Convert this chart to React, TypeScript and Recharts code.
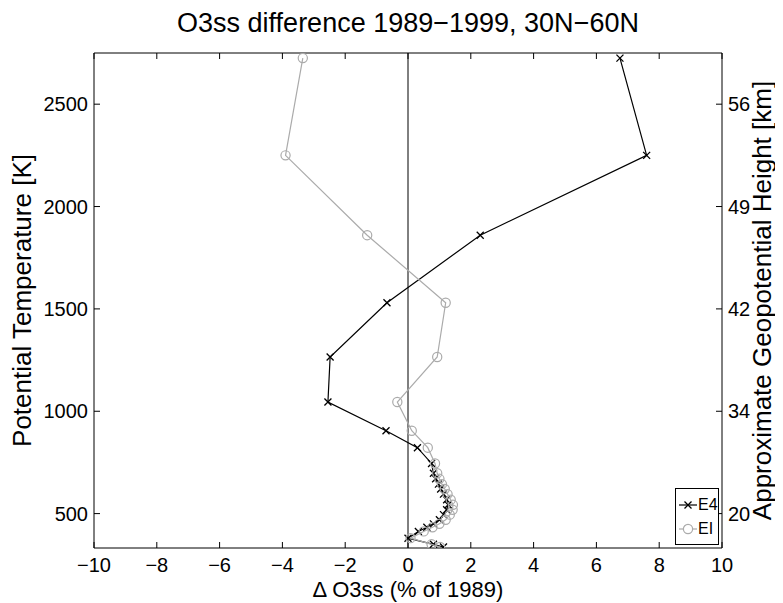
import {
  ScatterChart,
  Scatter,
  XAxis,
  YAxis,
  ReferenceLine,
} from "recharts";

const FONT = '"Liberation Sans", Arial, Helvetica, sans-serif';
const INK = "#000000";
const GREY = "#ababab";

// potential temperature levels [K], top to bottom
const theta = [2725, 2250, 1860, 1530, 1265, 1045, 905, 822, 745, 697, 670, 644, 620, 595, 568, 543, 519, 495, 470, 450, 433, 413, 380, 350, 337];
// O3ss change, % of 1989
const e4 = [6.75, 7.6, 2.3, -0.67, -2.48, -2.55, -0.7, 0.3, 0.75, 0.81, 0.88, 0.97, 1.04, 1.13, 1.23, 1.28, 1.23, 1.13, 1.0, 0.81, 0.6, 0.33, 0.0, 0.81, 1.13];
const ei = [-3.35, -3.9, -1.3, 1.2, 0.93, -0.34, 0.12, 0.63, 0.86, 0.93, 1.0, 1.08, 1.17, 1.26, 1.36, 1.43, 1.42, 1.33, 1.2, 1.0, 0.78, 0.5, 0.08, 0.75, 1.02];

const xTicks = [-10, -8, -6, -4, -2, 0, 2, 4, 6, 8, 10];
const thetaTicks = [500, 1000, 1500, 2000, 2500];
const kmLabels = ["20", "34", "42", "49", "56"];

const e4Data = theta.map((t, i) => ({ d: e4[i], t }));
const eiData = theta.map((t, i) => ({ d: ei[i], t }));

const minus = (v: number) => String(v).replace("-", "\u2212");
const kmFmt = (v: number) => kmLabels[thetaTicks.indexOf(v)] ?? "";

const tickStyle = { fontSize: 20, fill: INK, fontFamily: FONT };
const labelStyle = { fontSize: 26, fill: INK, fontFamily: FONT, textAnchor: "middle" as const };

function Cross(props: any) {
  const { cx, cy } = props;
  const s = 3.5;
  return (
    <path
      d={`M${cx - s},${cy - s}L${cx + s},${cy + s}M${cx - s},${cy + s}L${cx + s},${cy - s}`}
      stroke={INK}
      strokeWidth={1.3}
      fill="none"
    />
  );
}

function Ring(props: any) {
  return <circle cx={props.cx} cy={props.cy} r={4.6} fill="none" stroke={GREY} strokeWidth={1.2} />;
}

// matlab-ish boxed legend, sits in the lower right corner of the axes
function LegendBox() {
  const row = (name: string, color: string, marker: "x" | "o") => (
    <div style={{ display: "flex", alignItems: "center", height: 24 }}>
      <svg width={18} height={12} style={{ flex: "none" }}>
        <line x1={0} y1={6} x2={18} y2={6} stroke={color} strokeWidth={1.2} />
        {marker === "x" ? (
          <path d="M5.5,2.5L12.5,9.5M5.5,9.5L12.5,2.5" stroke={color} strokeWidth={1.3} />
        ) : (
          <circle cx={9} cy={6} r={4.6} fill="#fff" stroke={color} strokeWidth={1.2} />
        )}
      </svg>
      <span style={{ marginLeft: 1, whiteSpace: "nowrap" }}>{name}</span>
    </div>
  );
  return (
    <div
      style={{
        position: "absolute",
        left: 667,
        top: 480,
        width: 44,
        height: 57,
        border: "1px solid #000",
        background: "#fff",
        padding: "4px 0 0 3px",
        fontFamily: FONT,
        fontSize: 16,
        color: INK,
        boxSizing: "border-box",
      }}
    >
      {row("E4", INK, "x")}
      {row("EI", GREY, "o")}
    </div>
  );
}

export default function App() {
  return (
    <div style={{ position: "relative", width: 775, height: 595, fontFamily: FONT }}>
      <div
        style={{
          position: "absolute",
          top: 0,
          left: 86,
          width: 628,
          textAlign: "center",
          fontSize: 27,
          lineHeight: "31px",
          color: INK,
          whiteSpace: "nowrap",
        }}
      >
        O3ss difference 1989{"\u2212"}1999, 30N{"\u2212"}60N
      </div>
      <ScatterChart width={775} height={595} margin={{ top: 40, right: 0, bottom: 5, left: 0 }}>
        <XAxis
          xAxisId="b"
          type="number"
          dataKey="d"
          domain={[-10, 10]}
          ticks={xTicks}
          tickFormatter={minus}
          tick={tickStyle}
          tickSize={-6}
          tickMargin={16}
          stroke={INK}
          height={50}
          allowDataOverflow
          label={{ value: "\u0394 O3ss (% of 1989)", position: "insideBottom", offset: 1, style: { ...labelStyle, fontSize: 22 } }}
        />
        <XAxis
          xAxisId="t"
          orientation="top"
          type="number"
          dataKey="d"
          domain={[-10, 10]}
          ticks={xTicks}
          tickFormatter={() => ""}
          tickSize={-6}
          stroke={INK}
          height={5}
          allowDataOverflow
        />
        <YAxis
          yAxisId="l"
          type="number"
          dataKey="t"
          domain={[332, 2750]}
          ticks={thetaTicks}
          tick={tickStyle}
          tickSize={-6}
          tickMargin={12}
          stroke={INK}
          width={86}
          allowDataOverflow
          label={{ value: "Potential Temperature [K]", angle: -90, position: "insideLeft", offset: 14, style: labelStyle }}
        />
        <YAxis
          yAxisId="r"
          orientation="right"
          type="number"
          dataKey="t"
          domain={[332, 2750]}
          ticks={thetaTicks}
          tickFormatter={kmFmt}
          tick={tickStyle}
          tickSize={-6}
          tickMargin={12}
          stroke={INK}
          width={61}
          allowDataOverflow
          label={{ value: "Approximate Geopotential Height [km]", angle: -90, position: "insideRight", offset: 21, style: labelStyle }}
        />
        <ReferenceLine xAxisId="b" yAxisId="l" x={0} stroke={INK} strokeWidth={1} />
        <Scatter
          isAnimationActive={false}
          xAxisId="b"
          yAxisId="l"
          name="E4"
          data={e4Data}
          line={{ stroke: INK, strokeWidth: 1.2 }}
          lineJointType="linear"
          shape={Cross}
        />
        <Scatter
          isAnimationActive={false}
          xAxisId="b"
          yAxisId="l"
          name="EI"
          data={eiData}
          line={{ stroke: GREY, strokeWidth: 1.2 }}
          lineJointType="linear"
          shape={Ring}
        />
      </ScatterChart>
      <LegendBox />
    </div>
  );
}
